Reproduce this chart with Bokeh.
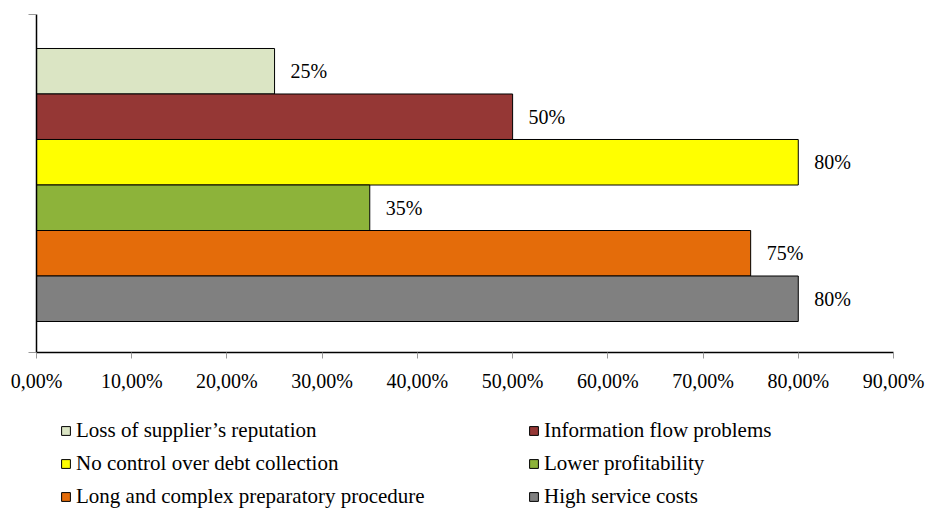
from bokeh.plotting import figure
from bokeh.models import Range1d, FixedTicker, Legend, LegendItem, ColumnDataSource
from bokeh.layouts import column
from bokeh.embed import file_html
from bokeh.resources import INLINE
from bokeh.core.properties import value

categories = [
    "Loss of supplier\u2019s reputation",
    "Information flow problems",
    "No control over debt collection",
    "Lower profitability",
    "Long and complex preparatory procedure",
    "High service costs",
]
values = [25, 50, 80, 35, 75, 80]
colors = ["#DBE5C4", "#953735", "#FFFF00", "#8DB33A", "#E46C0A", "#808080"]
x_ticks = [0, 10, 20, 30, 40, 50, 60, 70, 80, 90]
x_tick_labels = ["0,00%", "10,00%", "20,00%", "30,00%", "40,00%",
                 "50,00%", "60,00%", "70,00%", "80,00%", "90,00%"]
value_labels = [f"{v}%" for v in values]

FONT = "Liberation Serif"
n = len(categories)
y_start, y_end = -1.181, 6.247

p = figure(width=925, height=400, output_backend="svg", toolbar_location=None,
           x_range=Range1d(0, 90), y_range=Range1d(y_start, y_end),
           min_border_left=36, min_border_right=32, min_border_top=14,
           min_border_bottom=48)
p.outline_line_color = None
p.xgrid.visible = False
p.ygrid.visible = False

sources = []
for i, (v, c) in enumerate(zip(values, colors)):
    ypos = n - 1 - i
    src = ColumnDataSource(dict(y=[ypos], right=[v], lab=[value_labels[i]]))
    sources.append(src)
    p.hbar(y="y", right="right", left=0, height=1.0, source=src,
           fill_color=c, line_color="black", line_width=1)
    p.text(x="right", y="y", text="lab", source=src, x_offset=16,
           text_align="left", text_baseline="middle",
           text_font=value(FONT), text_font_size="20px", text_color="black")

# x axis
xa = p.xaxis[0]
xa.ticker = FixedTicker(ticks=x_ticks)
xa.major_label_overrides = {t: l for t, l in zip(x_ticks, x_tick_labels)}
xa.axis_line_color = "black"
xa.axis_line_width = 1.5
xa.major_tick_line_color = "#999999"
xa.major_tick_out = 6
xa.major_tick_in = 0
xa.minor_tick_line_color = None
xa.major_label_text_font = FONT
xa.major_label_text_font_size = "20px"
xa.major_label_text_color = "black"
xa.major_label_standoff = 11

# y axis: line and end ticks only, no labels
ya = p.yaxis[0]
ya.ticker = FixedTicker(ticks=[y_start, y_end])
ya.major_label_overrides = {y_start: "", y_end: ""}
ya.axis_line_color = "black"
ya.axis_line_width = 1.5
ya.major_tick_line_color = "#999999"
ya.major_tick_out = 8
ya.major_tick_in = 0
ya.minor_tick_line_color = None
ya.major_label_text_font_size = "10px"
ya.major_label_standoff = 0

# legend figure (its bars lie outside its view; only the legend shows)
q = figure(width=925, height=108, output_backend="svg", toolbar_location=None,
           x_range=Range1d(0, 1), y_range=Range1d(100, 101),
           x_axis_location=None, y_axis_location=None,
           min_border_left=0, min_border_right=0, min_border_top=0,
           min_border_bottom=0)
q.outline_line_color = None
q.xgrid.visible = False
q.ygrid.visible = False
lrend = []
for src, c in zip(sources, colors):
    r = q.hbar(y="y", right="right", left=0, height=1.0, source=src,
               fill_color=c, line_color="black", line_width=1)
    lrend.append(r)

order = [0, 2, 4, 1, 3, 5]
items = [LegendItem(label=categories[i], renderers=[lrend[i]]) for i in order]
lg = Legend(items=items, location=(24, -1), orientation="vertical", ncols=2,
            glyph_width=11, glyph_height=11, label_standoff=5,
            label_text_font=FONT, label_text_font_size="21px",
            label_text_color="black", label_height=22, label_width=444,
            spacing=8, padding=0, margin=0, border_line_alpha=0,
            background_fill_alpha=0)
q.add_layout(lg)

layout = column(p, q, spacing=0)
open("out.html", "w").write(file_html(layout, INLINE))
